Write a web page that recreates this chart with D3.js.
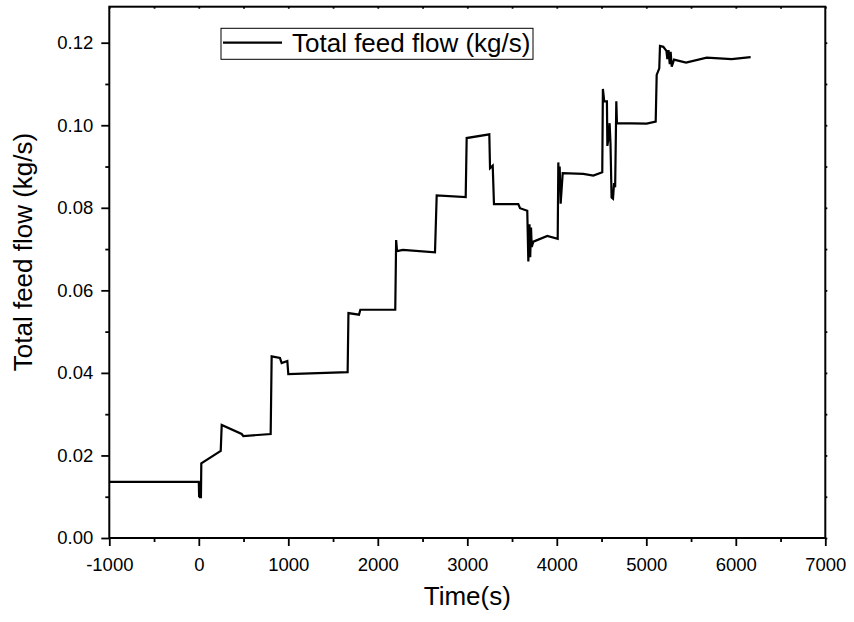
<!DOCTYPE html>
<html>
<head>
<meta charset="utf-8">
<script src="https://cdn.jsdelivr.net/npm/d3@7"></script>
<style>
  html, body { margin: 0; padding: 0; background: #fff; }
  svg { display: block; font-family: "Liberation Sans", Arial, sans-serif; }
</style>
</head>
<body>
<svg id="chart" width="854" height="622"></svg>
<script>
// ---- data ----
const timeS = [-1000, 0, 4, 10, 14, 24, 28, 245, 256, 479, 497, 803, 814, 907, 926, 989, 1000,
  1663, 1672, 1790, 1805, 2195, 2205, 2215, 2280, 2639, 2658, 2982, 2993, 3246, 3254, 3284,
  3298, 3570, 3589, 3670, 3682, 3695, 3703, 3712, 3720, 3738, 3894, 4010, 4017, 4025, 4032,
  4043, 4066, 4296, 4408, 4508, 4515, 4530, 4560, 4565, 4575, 4590, 4600, 4612, 4628, 4640,
  4652, 4665, 4672, 5004, 5105, 5116, 5145, 5153, 5190, 5225, 5235, 5248, 5262, 5272, 5284,
  5310, 5444, 5675, 5954, 6166];
const totalFeedFlow = [0.0136, 0.0136, 0.0099, 0.0136, 0.0099, 0.0099, 0.0181, 0.0211, 0.0274,
  0.0252, 0.0247, 0.0252, 0.0440, 0.0436, 0.0424, 0.0429, 0.0397, 0.0402, 0.0545, 0.0541,
  0.0553, 0.0553, 0.0722, 0.0695, 0.0698, 0.0692, 0.0830, 0.0826, 0.0969, 0.0978, 0.0896,
  0.0902, 0.0809, 0.0809, 0.0799, 0.0793, 0.0670, 0.0760, 0.0680, 0.0752, 0.0705, 0.0718,
  0.0732, 0.0725, 0.0910, 0.0845, 0.0900, 0.0810, 0.0884, 0.0882, 0.0878, 0.0886, 0.1088,
  0.1058, 0.1058, 0.0950, 0.0965, 0.1005, 0.0955, 0.0825, 0.0822, 0.0860, 0.0850, 0.1058,
  0.1005, 0.1004, 0.1009, 0.1122, 0.1138, 0.1192, 0.1190, 0.1180, 0.1160, 0.1182, 0.1148,
  0.1178, 0.1142, 0.1159, 0.1152, 0.1164, 0.1160, 0.1165];
const xMajorTicks = [-1000, 0, 1000, 2000, 3000, 4000, 5000, 6000, 7000];
const xMinorTicks = [-500, 500, 1500, 2500, 3500, 4500, 5500, 6500];
const yMajorTicks = [0.00, 0.02, 0.04, 0.06, 0.08, 0.10, 0.12];
const yMinorTicks = [0.01, 0.03, 0.05, 0.07, 0.09, 0.11];
const xTitle = "Time(s)";
const yTitle = "Total feed flow (kg/s)";
const legendLabel = "Total feed flow (kg/s)";

// ---- layout ----
const svg = d3.select("#chart");
const L = 109.3, R = 825.3, T = 6.7, B = 538;
const x = d3.scaleLinear().domain([-1000, 7000]).range([L, R]);
const y = d3.scaleLinear().domain([0, 0.12]).range([B, 42.7]);

const fontTick = "18.5px";

// bottom axis
const gx = svg.append("g").attr("transform", `translate(0,${B})`);
gx.call(d3.axisBottom(x).tickValues(xMajorTicks).tickSize(8).tickSizeOuter(0).tickPadding(12)
  .tickFormat(d => String(d)));
gx.append("g").call(d3.axisBottom(x).tickValues(xMinorTicks).tickSize(4).tickFormat(""));
// left axis
const gy = svg.append("g").attr("transform", `translate(${L},0)`);
gy.call(d3.axisLeft(y).tickValues(yMajorTicks).tickSize(8).tickSizeOuter(0).tickPadding(8)
  .tickFormat(d => d.toFixed(2)));
gy.append("g").call(d3.axisLeft(y).tickValues(yMinorTicks).tickSize(4).tickFormat(""));
// top axis (tiny ticks)
const gt = svg.append("g").attr("transform", `translate(0,${T})`);
gt.call(d3.axisTop(x).tickValues(xMajorTicks.concat(xMinorTicks)).tickSize(-2).tickSizeOuter(0).tickFormat(""));
// right axis (tiny ticks)
const gr = svg.append("g").attr("transform", `translate(${R},0)`);
gr.call(d3.axisRight(y).tickValues(yMajorTicks.concat(yMinorTicks)).tickSize(2).tickSizeOuter(0).tickFormat(""));

svg.selectAll(".domain").remove();
svg.selectAll(".tick line").attr("stroke", "#000").attr("stroke-width", 1.8);
svg.selectAll(".tick text").attr("font-size", fontTick).attr("fill", "#000")
  .attr("font-family", "'Liberation Sans', Arial, sans-serif");

// frame
svg.append("rect").attr("x", L).attr("y", T).attr("width", R - L).attr("height", B - T)
  .attr("fill", "none").attr("stroke", "#000").attr("stroke-width", 2);

// line
const pts = timeS.map((t, i) => [t, totalFeedFlow[i]]);
svg.append("path").datum(pts)
  .attr("fill", "none").attr("stroke", "#000").attr("stroke-width", 2.2)
  .attr("stroke-linejoin", "miter")
  .attr("d", d3.line().x(d => x(d[0])).y(d => y(d[1])));

// axis titles
svg.append("text").attr("x", (L + R) / 2).attr("y", 605).attr("text-anchor", "middle")
  .attr("font-size", "26px").text(xTitle);
svg.append("text").attr("transform", `translate(32,252) rotate(-90)`)
  .attr("text-anchor", "middle").attr("font-size", "26px").text(yTitle);

// legend
const lg = svg.append("g");
lg.append("rect").attr("x", 221).attr("y", 28.3).attr("width", 312).attr("height", 31)
  .attr("fill", "#fff").attr("stroke", "#000").attr("stroke-width", 1);
lg.append("line").attr("x1", 223).attr("x2", 282).attr("y1", 42.7).attr("y2", 42.7)
  .attr("stroke", "#000").attr("stroke-width", 2.2);
lg.append("text").attr("x", 292).attr("y", 52).attr("font-size", "26px").text(legendLabel);
</script>
</body>
</html>
